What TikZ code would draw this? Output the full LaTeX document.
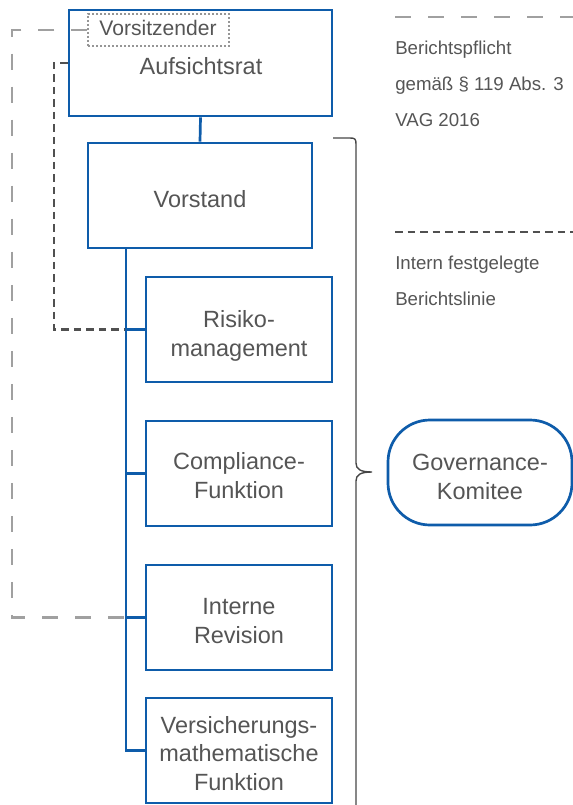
\documentclass[tikz,border=0pt]{standalone}
\usepackage{fontspec}
\setmainfont{Liberation Sans}
\usetikzlibrary{calc}
\definecolor{boxblue}{RGB}{14,92,170}
\definecolor{txtgray}{RGB}{85,85,85}
\definecolor{lightdash}{RGB}{160,160,160}
\definecolor{darkdash}{RGB}{80,80,80}
\definecolor{bracegray}{RGB}{70,70,70}
\definecolor{dotgray}{RGB}{150,150,150}
\def\px{0.75pt}
\begin{document}
\begin{tikzpicture}[x=0.75pt,y=-0.75pt,
  fbox/.style={draw=boxblue, line width=2.7*\px, fill=white, inner sep=0pt},
  smallbox/.style={fbox, minimum width=186*\px, minimum height=105*\px},
  lbl/.style={anchor=base, inner sep=0pt, align=center, text=txtgray,
    font=\fontsize{17.6}{21.2}\selectfont},
  conn/.style={draw=boxblue, line width=2.7*\px},
  lightline/.style={draw=lightdash, line width=2.3*\px, dash pattern=on 16*\px off 17*\px},
  darkline/.style={draw=darkdash, line width=2.2*\px, dash pattern=on 7.5*\px off 5*\px},
  legendtxt/.style={anchor=base west, inner sep=0pt, text=txtgray, font=\fontsize{14}{16}\selectfont},
  bracestyle/.style={draw=bracegray, line width=1.4*\px}
]
\useasboundingbox (0,0) rectangle (573,805);

% boxes
\node[fbox, minimum width=263*\px, minimum height=106*\px] (auf) at (200.5,63) {};
\node[lbl] (auf-l) at (201,75) {Aufsichtsrat};
\node[draw=dotgray, line width=1.5*\px, dash pattern=on 2*\px off 2*\px, inner sep=0pt,
  minimum width=141*\px, minimum height=32*\px] (vors) at (158.5,30) {};
\node[lbl, font=\fontsize{15.8}{18}\selectfont] (vors-l) at (158,36) {Vorsitzender};
\node[fbox, minimum width=224*\px, minimum height=105*\px] (vst) at (200,195.5) {};
\node[lbl] (vst-l) at (200,208) {Vorstand};
\node[smallbox] (risk) at (239,329.5) {};
\node[lbl] (risk-l) at (239,356) {Risiko-\\management};
\node[smallbox] (comp) at (239,473.5) {};
\node[lbl] (comp-l) at (239,498) {Compliance-\\Funktion};
\node[smallbox] (rev) at (239,617.5) {};
\node[lbl] (rev-l) at (239,643) {Interne\\Revision};
\node[smallbox] (vmf) at (239,750.5) {};
\node[lbl] (vmf-l) at (239,790) {Versicherungs-\\mathematische\\Funktion};
\node[fbox, rounded corners=42*\px, minimum width=184*\px, minimum height=105*\px]
  (gov) at (480,472.5) {};
\node[lbl] (gov-l) at (480,499) {Governance-\\Komitee};

% dashed reporting lines
\coordinate (lc1) at (12,30);
\coordinate (dc1) at (54,63);
\coordinate (trunk) at (126,248);
\draw[lightline] (vors.west) -- (lc1) |- (trunk |- rev.west);
\draw[darkline] (auf.west) -- (dc1) |- (trunk |- risk.west);

% hierarchy connectors
\draw[conn] (auf.south) -- (vst.north);
\draw[conn] (trunk) |- (vmf.west);
\draw[conn] (trunk |- risk.west) -- (risk.west);
\draw[conn] (trunk |- comp.west) -- (comp.west);
\draw[conn] (trunk |- rev.west) -- (rev.west);

% brace
\coordinate (b0) at (333,138);
\coordinate (b1) at (356,144);
\coordinate (bm) at (372,472);
\coordinate (b4) at (356,805);
\draw[bracestyle] (b0) -- (350,138) .. controls (355,138) and (356,139) .. (b1)
  -- (356,463) .. controls (356,469) and (360,472) .. (bm)
  .. controls (360,472) and (356,475) .. (356,481) -- (b4);

% legend
\coordinate (la) at (395,17);
\coordinate (lb) at (573,17);
\coordinate (da) at (395,232);
\coordinate (db) at (573,232);
\draw[lightline] (la) -- (lb);
\draw[darkline] (da) -- (db);
\node[legendtxt] (t1) at (395,55) {Berichtspflicht};
\node[legendtxt] (t2) at (395,91) {gemäß § 119 Abs. 3};
\node[legendtxt] (t3) at (395,127) {VAG 2016};
\node[legendtxt] (t4) at (395,269) {Intern festgelegte};
\node[legendtxt] (t5) at (395,305) {Berichtslinie};
\end{tikzpicture}
\end{document}
